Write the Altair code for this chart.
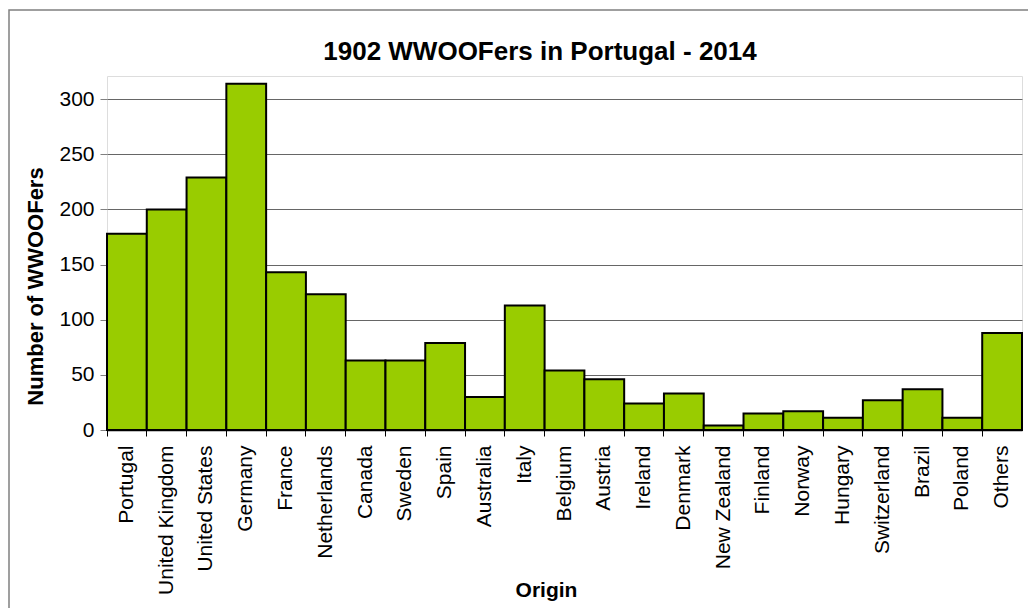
import altair as alt
import pandas as pd

countries = ["Portugal", "United Kingdom", "United States", "Germany", "France",
             "Netherlands", "Canada", "Sweden", "Spain", "Australia", "Italy",
             "Belgium", "Austria", "Ireland", "Denmark", "New Zealand", "Finland",
             "Norway", "Hungary", "Switzerland", "Brazil", "Poland", "Others"]
counts = [178, 200, 229, 314, 143, 123, 63, 63, 79, 30, 113, 54, 46, 24, 33,
          4, 15, 17, 11, 27, 37, 11, 88]
y_ticks = [0, 50, 100, 150, 200, 250, 300]
title_text = ["1902 WWOOFers in Portugal - 2014"]

df = pd.DataFrame({"Origin": countries, "Count": counts})
FONT = "Liberation Sans"

bars = alt.Chart(df).mark_bar(color="#99CC00", stroke="black", strokeWidth=2).encode(
    x=alt.X("Origin:N", sort=countries,
            scale=alt.Scale(paddingInner=0, paddingOuter=0),
            axis=alt.Axis(title="Origin", labelAngle=270, labelAlign="right",
                          labelBaseline="middle", labelFontSize=21, labelColor="black",
                          labelFont=FONT, labelPadding=9, tickSize=6, tickColor="black",
                          bandPosition=0, domainColor="black", domainWidth=1.5,
                          titleFontSize=21, titleFontWeight="bold", titleColor="black",
                          titleFont=FONT, titleX=439, titleY=160, titleAlign="center",
                          titleBaseline="middle", grid=False, labelOverlap=False)),
    y=alt.Y("Count:Q", scale=alt.Scale(domain=[0, 321], nice=False),
            axis=alt.Axis(title="Number of WWOOFers", values=y_ticks,
                          labelFontSize=21, labelColor="black", labelFont=FONT,
                          labelPadding=6, tickSize=7, tickColor="#808080",
                          domain=False, gridColor="#666666", gridWidth=1,
                          titleFontSize=22, titleFontWeight="bold", titleColor="black",
                          titleFont=FONT, titleX=-72, titleY=210,
                          titleBaseline="middle")),
)

title = alt.Chart(pd.DataFrame({"t": title_text})).mark_text(
    font=FONT, fontSize=26, fontWeight="bold", color="black",
    align="center", baseline="alphabetic"
).encode(text="t:N", x=alt.value(433), y=alt.value(-16))

border = alt.Chart(alt.Data(values=[{"a": 1}])).mark_rect(
    filled=False, stroke="#808080", strokeWidth=1.5
).encode(x=alt.value(-98), x2=alt.value(1100), y=alt.value(-66), y2=alt.value(700))

chart = alt.layer(bars, title, border).properties(
    width=915, height=354,
    autosize=alt.AutoSizeParams(type="none"),
    padding={"left": 99, "top": 68, "right": 6, "bottom": 178},
).configure_view(stroke="#808080", strokeWidth=1.5).configure(font=FONT)

chart.save("out.html", embed_options={"renderer": "svg", "actions": False})
